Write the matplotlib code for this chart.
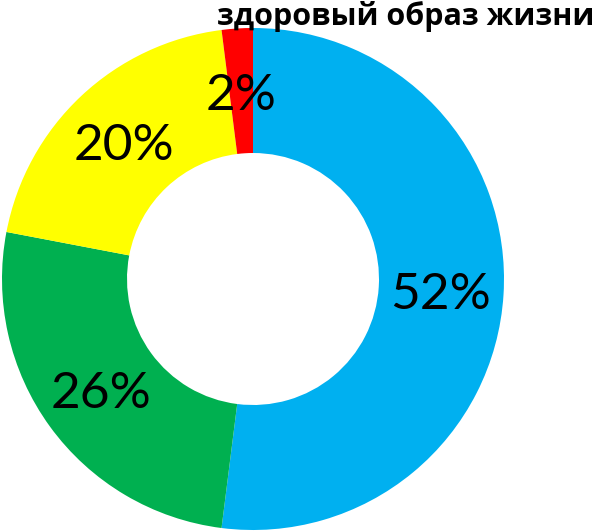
import matplotlib.pyplot as plt

# data
labels = ['52%', '26%', '20%', '2%']
values = [52, 26, 20, 2]
colors = ['#00B0F0', '#00B050', '#FFFF00', '#FF0000']
title = 'здоровый образ жизни'

fig = plt.figure(figsize=(5.95, 5.31), dpi=100)
ax = fig.add_axes([0, 0, 1, 1])
ax.set_aspect('equal')
ax.axis('off')

wedges, texts = ax.pie(values, colors=colors, startangle=90, counterclock=False,
                       center=(253, 252), radius=251,
                       wedgeprops=dict(width=125, linewidth=0),
                       labels=labels, labeldistance=0.75,
                       textprops=dict(fontsize=37, family='Lato', ha='center',
                                      va='center_baseline'))
ax.set_xlim(0, 595)
ax.set_ylim(0, 531)

ax.text(594, 530, title, fontsize=22, fontweight='bold', family='Open Sans',
        ha='right', va='top')

fig.savefig('out.png', dpi=100)
